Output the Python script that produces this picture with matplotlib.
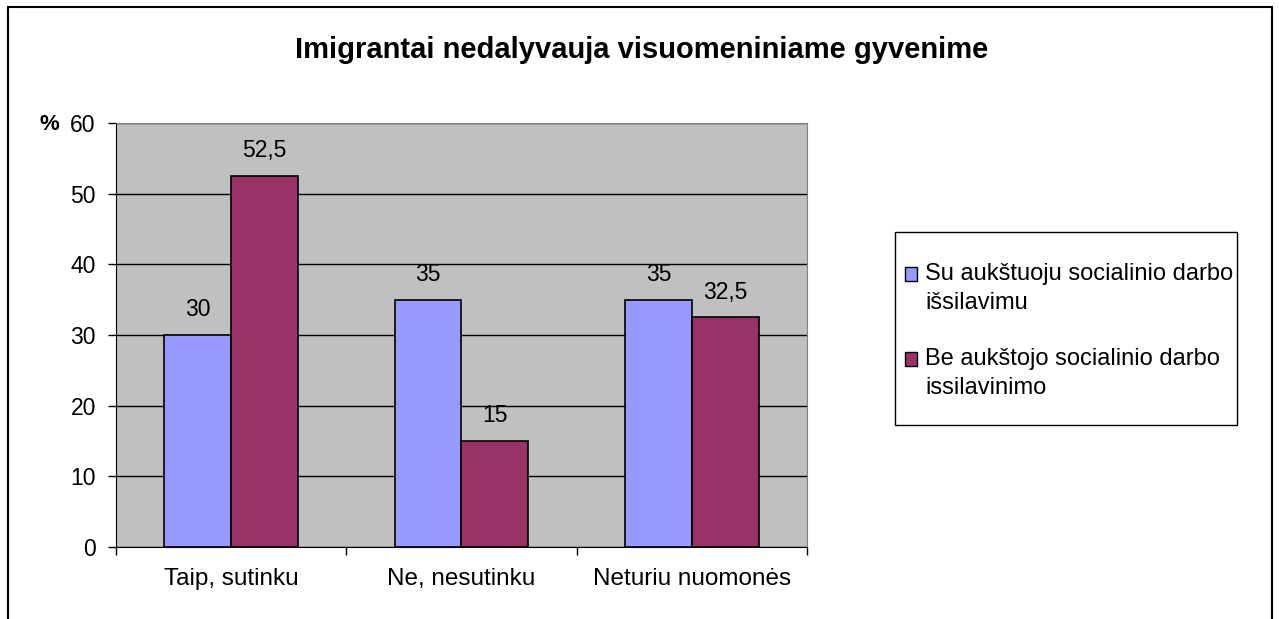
import numpy as np
import matplotlib
matplotlib.use("Agg")
import matplotlib.pyplot as plt
from matplotlib.patches import Rectangle
from matplotlib.legend_handler import HandlerPatch

plt.rcParams['font.family'] = ['Liberation Sans', 'DejaVu Sans']

title = "Imigrantai nedalyvauja visuomeniniame gyvenime"
categories = ["Taip, sutinku", "Ne, nesutinku", "Neturiu nuomonės"]
series_names = ["Su aukštuoju socialinio darbo\nišsilavimu",
                "Be aukštojo socialinio darbo\nissilavinimo"]
su_aukstuoju = [30, 35, 35]
be_aukstojo = [52.5, 15, 32.5]
value_labels = [["30", "35", "35"], ["52,5", "15", "32,5"]]
colors = ["#9999FF", "#993366"]

W, H = 1279, 619
fig = plt.figure(figsize=(W / 100, H / 100), dpi=100)
ax = fig.add_axes([116 / W, 1 - 547 / H, (807 - 116) / W, (547 - 123) / H])
ax.set_facecolor("#C0C0C0")

x = np.arange(len(categories))
bw = 0.29
bars = []
for i, (vals, name) in enumerate(zip([su_aukstuoju, be_aukstojo], series_names)):
    pos = x + (i - 0.5) * bw
    b = ax.bar(pos, vals, bw, color=colors[i], edgecolor="black", linewidth=1.2,
               label=name, zorder=3)
    bars.append(b)
    for px, v, t in zip(pos, vals, value_labels[i]):
        ax.annotate(t, (px, v), xytext=(0, 13.5), textcoords="offset points",
                    ha="center", va="baseline", fontsize=16.5)

ax.set_xlim(-0.5, len(categories) - 0.5)
ax.set_ylim(0, 60)
ax.set_yticks(range(0, 61, 10))
ax.yaxis.grid(True, color="black", linewidth=1, zorder=0)
ax.set_axisbelow(True)

# category labels centred, tick marks on the boundaries
ax.set_xticks(x)
ax.set_xticklabels(categories, fontsize=17.5)
ax.tick_params(axis="x", length=0, pad=15)
ax.set_xticks(np.arange(-0.5, len(categories), 1), minor=True)
ax.tick_params(axis="x", which="minor", length=6, width=1, color="black")
ax.tick_params(axis="y", length=6, width=1, labelsize=16.5, pad=8.5)

for s in ["top", "right"]:
    ax.spines[s].set_color("#808080")
for s in ["left", "bottom"]:
    ax.spines[s].set_color("black")

fig.text(49 / W, 1 - 124 / H, "%", fontsize=16, fontweight="bold",
         ha="center", va="center")
fig.text(0.502, 1 - 50 / H, title, fontsize=21, fontweight="bold",
         ha="center", va="center")


# legend square next to the first line of each two-line label
def top_square(legend, orig_handle, xdescent, ydescent, width, height, fontsize):
    return Rectangle((-xdescent, -ydescent + 10.5), width, height)


leg = fig.legend(handles=[b.patches[0] for b in bars], labels=series_names,
                 loc="upper left", bbox_to_anchor=(905 / W, 1 - 263 / H),
                 frameon=False, fontsize=17, handlelength=0.52, handleheight=0.52,
                 handletextpad=0.34, labelspacing=1.45, borderpad=0,
                 borderaxespad=0,
                 handler_map={Rectangle: HandlerPatch(patch_func=top_square)})
for t in leg.get_texts():
    t.set_linespacing(1.4)
for h in leg.legend_handles:
    h.set_linewidth(1)

fig.patches.append(Rectangle((895 / W, 1 - 425 / H), (1237 - 895) / W, (425 - 232) / H,
                             transform=fig.transFigure, fill=False,
                             edgecolor="black", linewidth=1))
fig.patches.append(Rectangle((8 / W, -0.1), (1272 - 8) / W, 1.1 - 7 / H,
                             transform=fig.transFigure, fill=False,
                             edgecolor="black", linewidth=1.5))

fig.savefig("out.png", dpi=100)
